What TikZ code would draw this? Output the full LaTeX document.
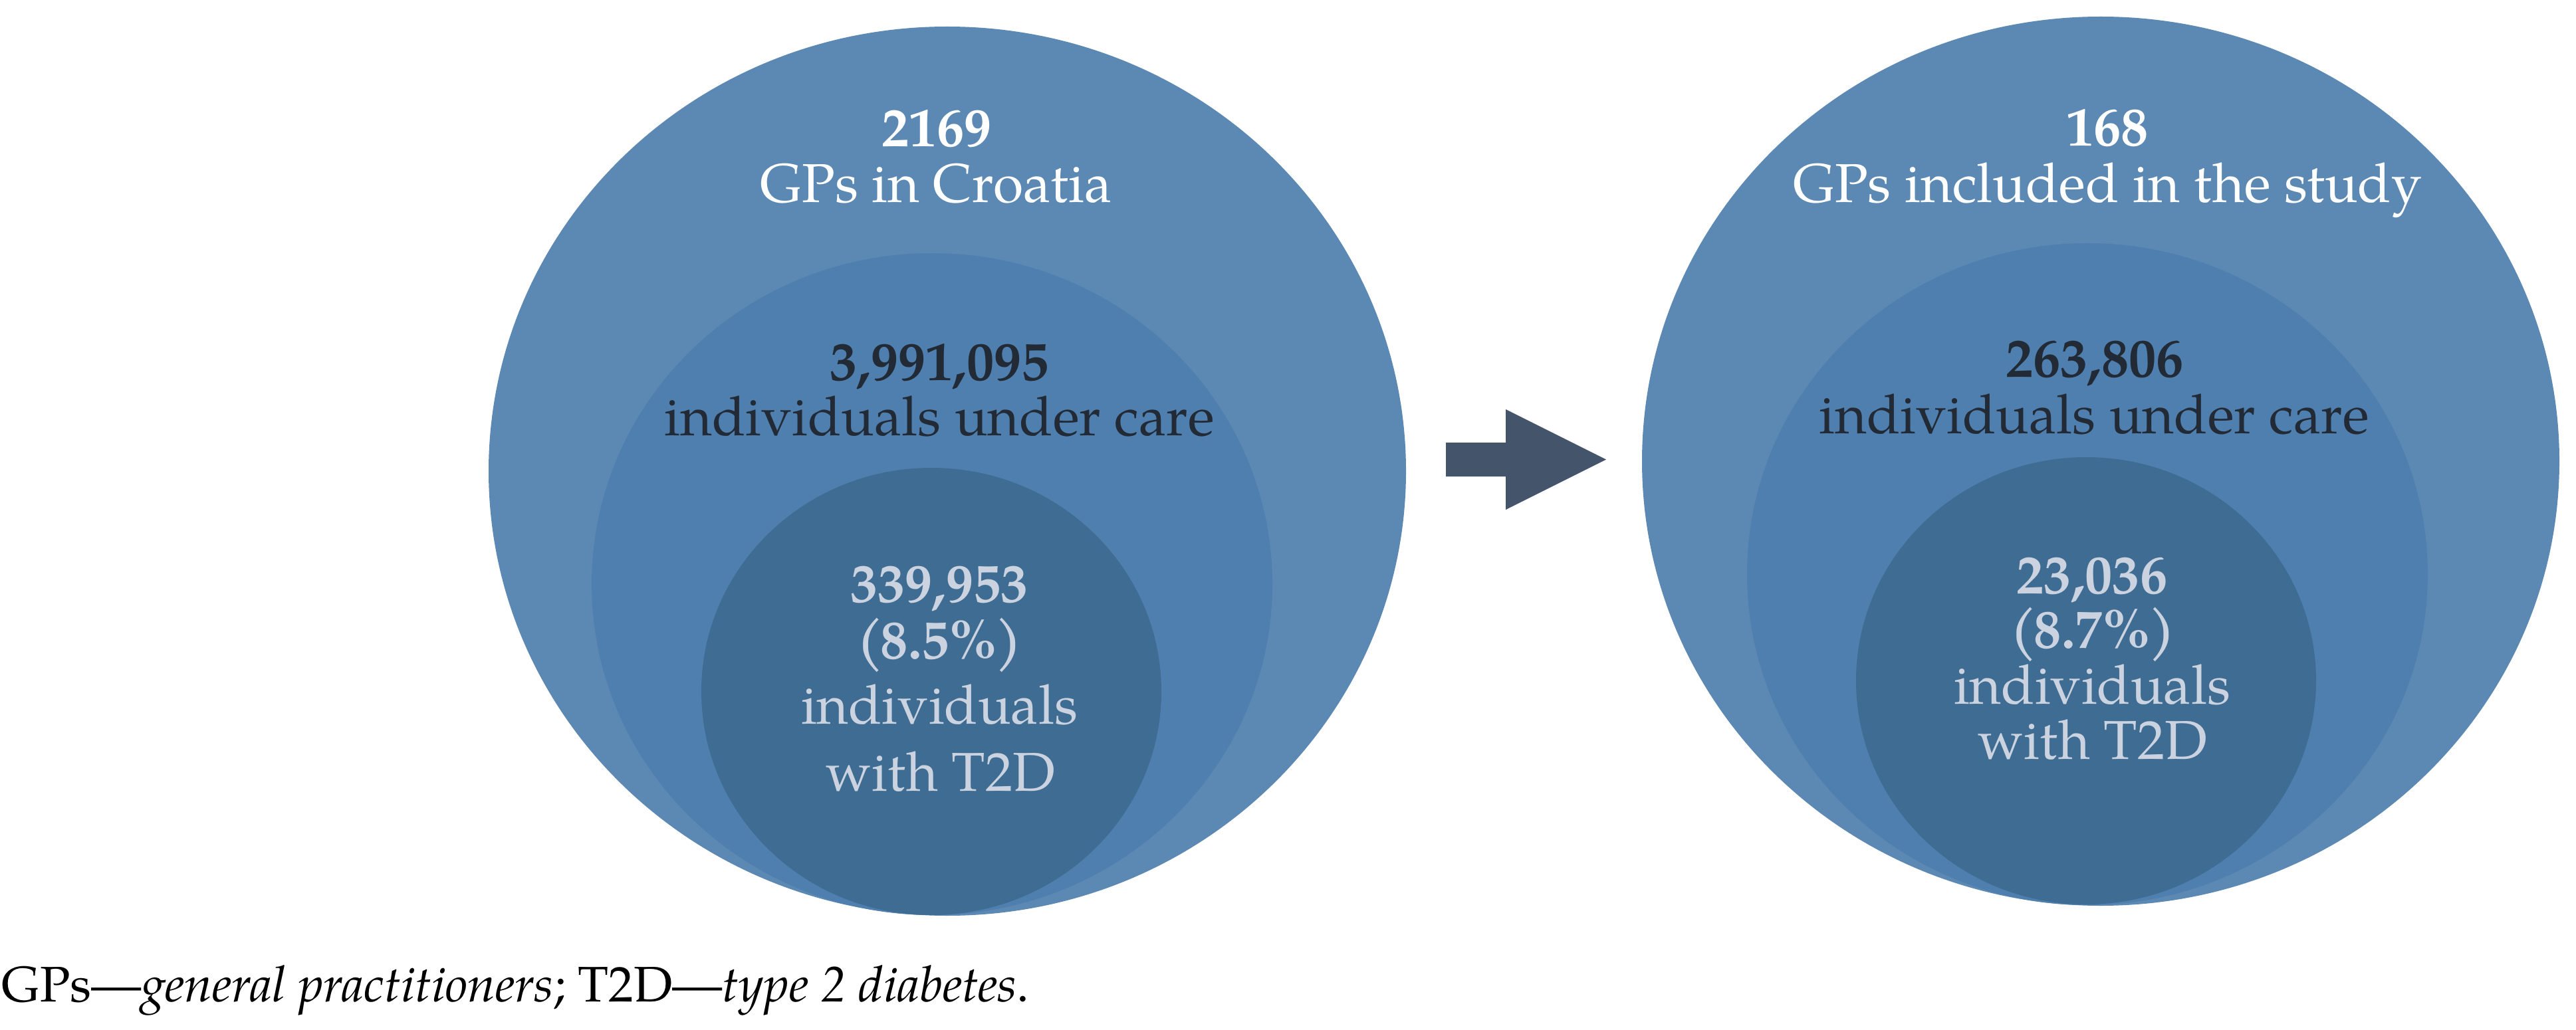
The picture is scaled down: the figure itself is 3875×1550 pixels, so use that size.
\documentclass[tikz,border=0pt]{standalone}
\usepackage{fontspec}
\setmainfont{TeX Gyre Pagella}
\definecolor{outerc}{HTML}{5B89B3}
\definecolor{midc}{HTML}{4F7FAE}
\definecolor{innerc}{HTML}{3F6C92}
\definecolor{arrowc}{HTML}{44546A}
\definecolor{darktxt}{HTML}{222A35}
\definecolor{lighttxt}{HTML}{CAD3DF}
\newcommand{\tightpar}[1]{(\kern-0.05em#1\kern-0.05em)}
\begin{document}
\begin{tikzpicture}[x=0.25pt,y=-0.25pt,
  lbl/.style={inner sep=0pt,outer sep=0pt,anchor=base,font=\fontsize{20.6}{20.6}\selectfont},
  toptxt/.style={lbl,text=white},
  midtxt/.style={lbl,text=darktxt},
  intxt/.style={lbl,text=lighttxt}]
\useasboundingbox (0,0) rectangle (3875,1550);
% left set
\fill[outerc] (1425,709) ellipse [x radius=172.5pt,y radius=167.25pt];
\fill[midc] (1402,879) ellipse [x radius=128pt,y radius=124.5pt];
\fill[innerc] (1401,1040.5) ellipse [x radius=86.5pt,y radius=84.125pt];
% right set
\fill[outerc] (3160,694) ellipse [x radius=172.5pt,y radius=167.25pt];
\fill[midc] (3140,864) ellipse [x radius=128pt,y radius=124.5pt];
\fill[innerc] (3138,1024.5) ellipse [x radius=86.5pt,y radius=84.125pt];
% arrow
\fill[arrowc] (2175,666) -- (2265,666) -- (2265,616) -- (2416,691.5) -- (2265,767) -- (2265,717) -- (2175,717) -- cycle;
% left texts
\node[toptxt] (l1) at (1409,220.5) {\bfseries 2169};
\node[toptxt] (l2) at (1408,305) {GPs in Croatia};
\node[midtxt] (l3) at (1413,572) {\bfseries 3,991,095};
\node[midtxt] (l4) at (1413,656) {individuals under care};
\node[intxt] (l5) at (1413,906) {\bfseries 339,953};
\node[intxt] (l6) at (1413,991) {\bfseries \tightpar{8.5\%}};
\node[intxt] (l7) at (1413,1089) {individuals};
\node[intxt] (l8) at (1415,1190) {with T2D};
% right texts
\node[toptxt] (r1) at (3170,220) {\bfseries 168};
\node[toptxt] (r2) at (3170,304.5) {GPs included in the study};
\node[midtxt] (r3) at (3151,567.5) {\bfseries 263,806};
\node[midtxt] (r4) at (3150,652) {individuals under care};
\node[intxt] (r5) at (3147,893) {\bfseries 23,036};
\node[intxt] (r6) at (3148,975) {\bfseries \tightpar{8.7\%}};
\node[intxt] (r7) at (3147,1059) {individuals};
\node[intxt] (r8) at (3148,1142) {with T2D};
% caption
\node[inner sep=0pt,anchor=base west,font=\fontsize{18.8}{18.8}\selectfont] (cap) at (2,1507) {GPs---\textit{general practitioners}; T2D---\textit{type 2 diabetes}.};
\end{tikzpicture}
\end{document}
